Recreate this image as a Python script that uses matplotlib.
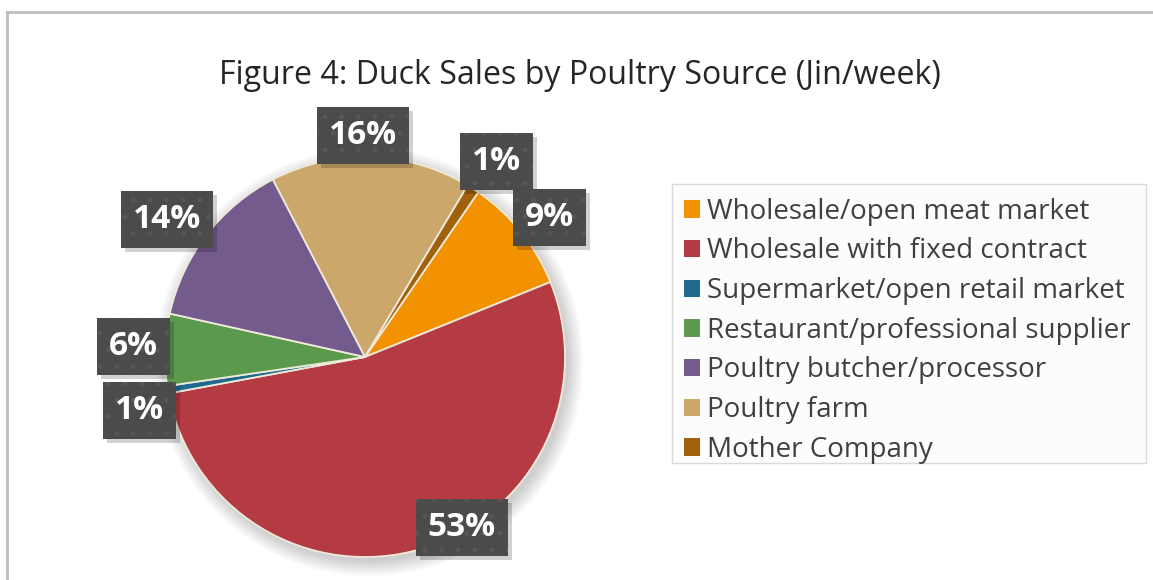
import matplotlib
matplotlib.use("Agg")
import matplotlib.pyplot as plt
from matplotlib.patches import Circle, Rectangle
from matplotlib.lines import Line2D
from matplotlib.transforms import IdentityTransform
import numpy as np

# ---- data ----
categories = [
    "Wholesale/open meat market",
    "Wholesale with fixed contract",
    "Supermarket/open retail market",
    "Restaurant/professional supplier",
    "Poultry butcher/processor",
    "Poultry farm",
    "Mother Company",
]
shares = [9.3, 53.2, 0.6, 5.8, 13.9, 16.2, 1.0]
title_text = "Figure 4: Duck Sales by Poultry Source (Jin/week)"

# ---- style ----
colors = ["#F39200", "#B43A44", "#1F6A8E", "#5B9A4E", "#745B8D", "#CBA76B", "#A0600C"]
label_radius = [1.155, 0.98, 1.157, 1.16, 1.206, 1.11, 1.18]
label_shift = [1.6, -13.3, -3.9, 0.4, -2.8, -2.3, 1.2]   # clockwise degrees

W, H, DPI = 1153, 580, 100
fig = plt.figure(figsize=(W / DPI, H / DPI), dpi=DPI)
fig.patch.set_facecolor("white")

cx, cy, R = 365, 357, 200
lim = 1.4
side = R * lim * 2
ax = fig.add_axes([(cx - side / 2) / W, (H - cy - side / 2) / H, side / W, side / H])

wedges, _ = ax.pie(shares, colors=colors, startangle=90 - 34.5, counterclock=False,
                   radius=1.0, wedgeprops=dict(edgecolor="#EFE9DA", linewidth=1.3))
for w in wedges:
    w.set_zorder(2)
ax.set_xlim(-lim, lim)
ax.set_ylim(-lim, lim)
ax.set_aspect("equal")
ax.axis("off")

# soft shadow under pie
for i in range(8):
    ax.add_patch(Circle((0.02, -0.025), 1.0 + 0.01 * i, color="black",
                        alpha=0.022, lw=0, zorder=0))

plt.rcParams["hatch.linewidth"] = 1.0
labels = []
for w, v, r, s in zip(wedges, shares, label_radius, label_shift):
    mid = np.deg2rad((w.theta1 + w.theta2) / 2 - s)
    x, y = r * np.cos(mid), r * np.sin(mid)
    t = ax.text(x, y, f"{v:.0f}%", ha="center", va="center", fontsize=24,
                fontweight="bold", family="Open Sans", color="white", zorder=5,
                bbox=dict(boxstyle="square,pad=0.36", facecolor="#4B4B4B",
                          edgecolor="#575757", linewidth=0, hatch="."))
    labels.append(t)

# legend (frame drawn separately)
leg = fig.legend(wedges, categories, loc="upper left",
                 bbox_to_anchor=(672 / W, 1 - 186 / H), borderaxespad=0,
                 prop=dict(family="Open Sans", size=20), labelcolor="#404040",
                 frameon=False, handlelength=0.58,
                 handleheight=0.58, handletextpad=0.27, labelspacing=0.42,
                 borderpad=0.42)
for h in leg.legend_handles:
    h.set_edgecolor("none")
fig.add_artist(Rectangle((672 / W, 1 - 463 / H), (1146 - 672) / W, (463 - 184) / H,
                         transform=fig.transFigure, facecolor="#FCFCFC",
                         edgecolor="#D9D9D9", linewidth=1.0, zorder=-1))

# title
title = fig.text(580 / W, 1 - 75 / H, title_text, ha="center", va="center",
                 fontsize=20, family="Open Sans", color="#262626")
fig.canvas.draw()
wpx = title.get_window_extent().width
title.set_fontsize(20 * 720 / wpx)

# drop shadows of the label boxes
fig.canvas.draw()
for t in labels:
    bb = t.get_bbox_patch().get_window_extent()
    ax.add_patch(Rectangle((bb.x0 + 4, bb.y0 - 4), bb.width, bb.height,
                           transform=IdentityTransform(), facecolor="black",
                           alpha=0.18, linewidth=0, zorder=4))

# outer border (top and left)
fig.add_artist(Line2D([7 / W, 1], [1 - 11.5 / H, 1 - 11.5 / H], color="#BDBDBD", lw=2))
fig.add_artist(Line2D([7 / W, 7 / W], [0, 1 - 11.5 / H], color="#BDBDBD", lw=2))

fig.savefig("out.png", dpi=DPI)
